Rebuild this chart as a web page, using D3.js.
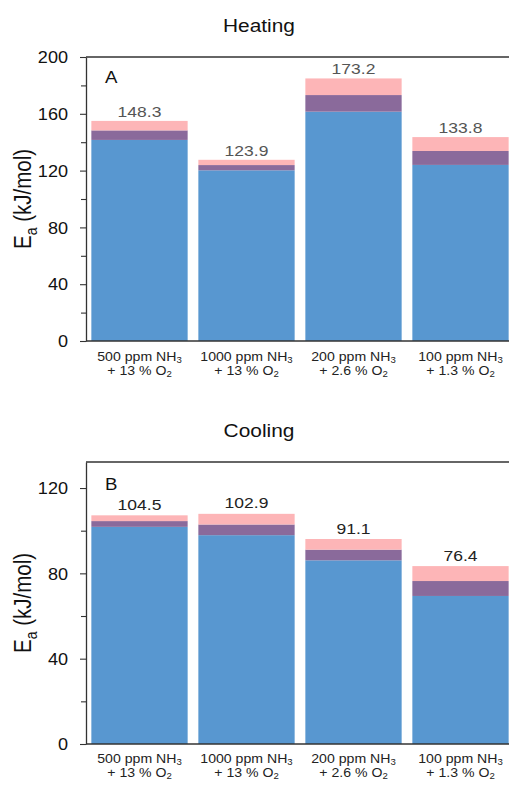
<!DOCTYPE html>
<html>
<head>
<meta charset="utf-8">
<script src="https://cdn.jsdelivr.net/npm/d3@7/dist/d3.min.js"></script>
<style>
  html, body { margin: 0; padding: 0; background: #fff; }
  svg { display: block; font-family: "Liberation Sans", Arial, sans-serif; }
</style>
</head>
<body>
<svg id="chart" width="509" height="785"></svg>
<script>
// ---- data ----
const catLine1 = ["500 ppm NH", "1000 ppm NH", "200 ppm NH", "100 ppm NH"];
const catLine1Sub = "3";
const catLine2 = ["+ 13 % O", "+ 13 % O", "+ 2.6 % O", "+ 1.3 % O"];
const catLine2Sub = "2";

const heatingValues = [148.3, 123.9, 173.2, 133.8];
const heatingErrors = [6.7, 3.7, 11.7, 9.8];
const heatingMajorTicks = [0, 40, 80, 120, 160, 200];
const heatingMinorTicks = [20, 60, 100, 140, 180];

const coolingValues = [104.5, 102.9, 91.1, 76.4];
const coolingErrors = [2.7, 5.0, 5.0, 7.0];
const coolingMajorTicks = [0, 40, 80, 120];
const coolingMinorTicks = [20, 60, 100];

// ---- style ----
const SX = 1.13; // horizontal text stretch of the reference
const blue = "#5897d0", purple = "#8a6a9b", pink = "#fdb5b7";
const axisColor = "#333";

const svg = d3.select("#chart");
const W = 509;
const left = 86;

const x = d3.scaleBand().domain(d3.range(catLine1.length))
  .range([left, left + 4 * 107]).paddingInner(0.1).paddingOuter(0.05);

function stretchText(sel, tx, ty, extra) {
  return sel.attr("transform", `translate(${tx},${ty}) scale(${SX},1)` + (extra || ""));
}

function drawPanel(cfg) {
  const g = svg.append("g");
  const y = d3.scaleLinear().domain([0, cfg.yMax]).range([cfg.bottom, cfg.top]);

  // title
  stretchText(g.append("text"), 259, cfg.titleY)
    .attr("text-anchor", "middle").attr("font-size", 18.5).attr("fill", "#111")
    .text(cfg.title);

  const data = cfg.values.map((v, i) => ({ i, v, e: cfg.errors[i] }));

  // blue base (0 -> v - e)
  g.selectAll(".base").data(data).join("rect")
    .attr("x", d => x(d.i)).attr("width", x.bandwidth())
    .attr("y", d => y(d.v - d.e)).attr("height", d => y(0) - y(d.v - d.e))
    .attr("fill", blue);
  // purple overlap (v - e -> v)
  g.selectAll(".mid").data(data).join("rect")
    .attr("x", d => x(d.i)).attr("width", x.bandwidth())
    .attr("y", d => y(d.v)).attr("height", d => y(d.v - d.e) - y(d.v))
    .attr("fill", purple);
  // pink upper (v -> v + e)
  g.selectAll(".up").data(data).join("rect")
    .attr("x", d => x(d.i)).attr("width", x.bandwidth())
    .attr("y", d => y(d.v + d.e)).attr("height", d => y(d.v) - y(d.v + d.e))
    .attr("fill", pink);

  // value labels
  g.selectAll(".val").data(data).join("text")
    .each(function (d) {
      stretchText(d3.select(this), x(d.i) + x.bandwidth() / 2, y(d.v + d.e) - cfg.labelGap);
    })
    .attr("text-anchor", "middle").attr("font-size", 15.5).attr("fill", cfg.labelColor)
    .text(d => d.v.toFixed(1));

  // panel letter
  stretchText(g.append("text"), 105, cfg.letterY)
    .attr("font-size", 16.5).attr("fill", "#111").text(cfg.letter);

  // frame lines: top and bottom
  g.append("line").attr("x1", left).attr("x2", W).attr("y1", cfg.top).attr("y2", cfg.top)
    .attr("stroke", axisColor).attr("stroke-width", 1.3);
  g.append("line").attr("x1", left).attr("x2", W).attr("y1", cfg.bottom).attr("y2", cfg.bottom)
    .attr("stroke", axisColor).attr("stroke-width", 1.3);

  // minor ticks
  const minor = g.append("g").attr("transform", `translate(${left},0)`)
    .call(d3.axisLeft(y).tickValues(cfg.minor).tickSize(5).tickSizeOuter(0).tickFormat(""));
  minor.select(".domain").remove();
  minor.selectAll("line").attr("stroke", axisColor).attr("stroke-width", 1.1);

  // major axis
  const ax = g.append("g").attr("transform", `translate(${left},0)`)
    .call(d3.axisLeft(y).tickValues(cfg.major).tickSize(6).tickSizeOuter(0).tickPadding(12));
  ax.select(".domain").attr("stroke", axisColor).attr("stroke-width", 1.3);
  ax.selectAll(".tick line").attr("stroke", axisColor).attr("stroke-width", 1.1);
  ax.selectAll(".tick text")
    .attr("x", null).attr("dy", "0.36em")
    .attr("transform", `translate(-18,0) scale(${SX},1)`)
    .attr("font-size", 16).attr("fill", "#111").attr("font-family", "Liberation Sans, Arial, sans-serif");

  // y axis title
  const yt = g.append("text")
    .attr("transform", `translate(31,${(cfg.top + cfg.bottom) / 2}) scale(${SX},1) rotate(-90)`)
    .attr("text-anchor", "middle").attr("font-size", 20.5).attr("fill", "#111");
  yt.append("tspan").text("E");
  yt.append("tspan").attr("font-size", 14).attr("dy", 5).text("a");
  yt.append("tspan").attr("dy", -5).text(" (kJ/mol)");

  // category labels
  catLine1.forEach((c, i) => {
    const cx = x(i) + x.bandwidth() / 2;
    const t1 = stretchText(g.append("text"), cx, cfg.bottom + cfg.cat1)
      .attr("text-anchor", "middle").attr("font-size", 12.5).attr("fill", "#222");
    t1.append("tspan").text(c);
    t1.append("tspan").attr("font-size", 8.5).attr("dy", 2).text(catLine1Sub);
    const t2 = stretchText(g.append("text"), cx, cfg.bottom + cfg.cat2)
      .attr("text-anchor", "middle").attr("font-size", 12.5).attr("fill", "#222");
    t2.append("tspan").text(catLine2[i]);
    t2.append("tspan").attr("font-size", 8.5).attr("dy", 2).text(catLine2Sub);
  });
}

drawPanel({
  title: "Heating", titleY: 32, letter: "A", letterY: 83,
  top: 57, bottom: 341, yMax: 200,
  major: heatingMajorTicks, minor: heatingMinorTicks,
  values: heatingValues, errors: heatingErrors,
  labelColor: "#555", labelGap: 4, cat1: 20, cat2: 34
});

drawPanel({
  title: "Cooling", titleY: 437, letter: "B", letterY: 490,
  top: 462, bottom: 744, yMax: 132.2,
  major: coolingMajorTicks, minor: coolingMinorTicks,
  values: coolingValues, errors: coolingErrors,
  labelColor: "#222", labelGap: 5.5, cat1: 19, cat2: 33
});
</script>
</body>
</html>
